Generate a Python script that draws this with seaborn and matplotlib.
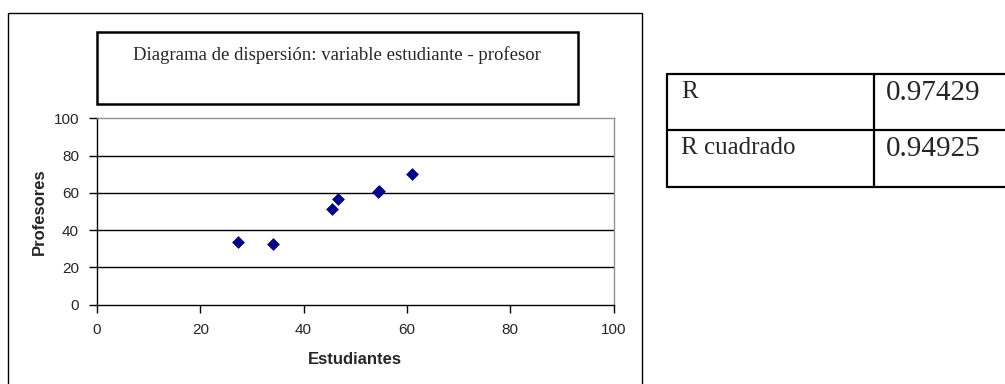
import matplotlib
matplotlib.use("Agg")
import matplotlib.pyplot as plt
import seaborn as sns
import pandas as pd
from matplotlib.patches import Rectangle
from matplotlib.lines import Line2D

estudiantes = [27.3, 34.0, 45.5, 46.7, 54.4, 54.6, 61.0]
profesores = [33.3, 32.6, 51.2, 56.7, 60.3, 61.2, 69.9]
ticks = [0, 20, 40, 60, 80, 100]
title = "Diagrama de dispersión: variable estudiante - profesor"
table_labels = ["R", "R cuadrado"]
table_values = ["0.97429", "0.94925"]

sns.set_style("white")
plt.rcParams['font.family'] = ['Liberation Sans', 'DejaVu Sans']

W, H = 1005, 384
fig = plt.figure(figsize=(W / 100, H / 100), dpi=100)

def fx(px):
    return px / W

def fy(py):
    return 1 - py / H

ax = fig.add_axes([fx(97), fy(304.5), fx(613.5) - fx(97), fy(118.3) - fy(304.5)])
df = pd.DataFrame({"Estudiantes": estudiantes, "Profesores": profesores})
sns.scatterplot(data=df, x="Estudiantes", y="Profesores", ax=ax, marker="D",
                color="#000080", s=36, edgecolor="#000080", linewidth=0.5, zorder=3)
ax.set_xlim(0, 100)
ax.set_ylim(0, 100)
ax.set_xticks(ticks)
ax.set_yticks(ticks)
for t in ticks[1:-1]:
    ax.axhline(t, color="black", lw=1.0, zorder=1)
ax.tick_params(axis="both", direction="out", length=6, width=1, color="black",
               labelsize=11, bottom=True, left=True)
ax.tick_params(axis="y", pad=7)
ax.tick_params(axis="x", pad=7)
ax.set_xlabel("Estudiantes", fontsize=12, fontweight="bold", labelpad=11)
ax.set_ylabel("Profesores", fontsize=12, fontweight="bold", labelpad=5)
for s in ["left", "bottom"]:
    ax.spines[s].set_color("black")
    ax.spines[s].set_linewidth(1.0)
for s in ["top", "right"]:
    ax.spines[s].set_color("#909090")
    ax.spines[s].set_linewidth(1.0)

# outer chart frame
fig.add_artist(Rectangle((fx(8), fy(395)), fx(642) - fx(8), fy(13) - fy(395),
                         transform=fig.transFigure, fill=False, edgecolor="black", lw=1.0))
# title box
fig.add_artist(Rectangle((fx(97), fy(104)), fx(578) - fx(97), fy(32) - fy(104),
                         transform=fig.transFigure, fill=False, edgecolor="black", lw=1.8))
fig.text(fx(337), fy(55), title, ha="center", va="center", fontsize=13.5,
         family=["Liberation Serif", "DejaVu Serif"])

# table
tl, tm, tr = 667, 874, 1010
ty = [74, 130, 187]
lw = 1.6
for y in ty:
    fig.add_artist(Line2D([fx(tl), fx(tr)], [fy(y), fy(y)], transform=fig.transFigure,
                          color="black", lw=lw))
for x in [tl, tm]:
    fig.add_artist(Line2D([fx(x), fx(x)], [fy(ty[0]), fy(ty[-1])], transform=fig.transFigure,
                          color="black", lw=lw))
for i, (lab, val) in enumerate(zip(table_labels, table_values)):
    y0 = ty[i]
    fig.text(fx(tl + 14), fy(y0 + 18), lab, ha="left", va="center", fontsize=18,
             family=["Liberation Serif", "DejaVu Serif"])
    fig.text(fx(tm + 12), fy(y0 + 19), val, ha="left", va="center", fontsize=21,
             family=["Liberation Serif", "DejaVu Serif"])

fig.savefig("out.png", dpi=100)
